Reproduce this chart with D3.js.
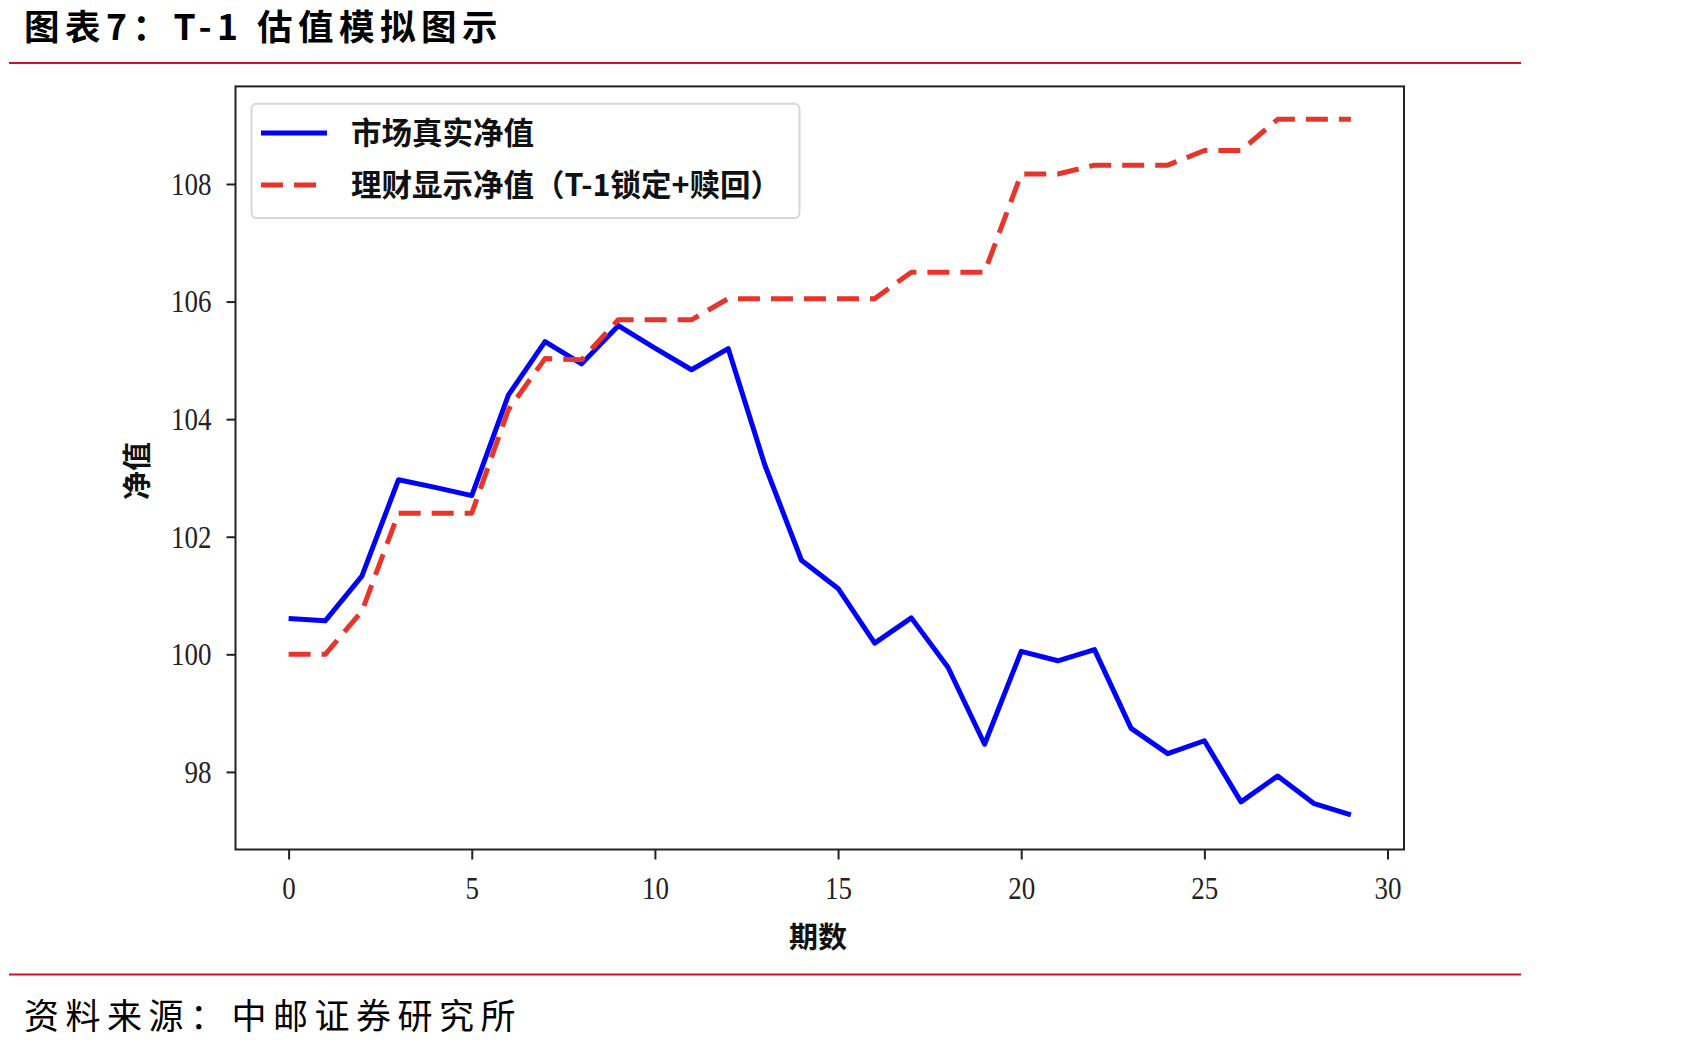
<!DOCTYPE html>
<html>
<head>
<meta charset="utf-8">
<script src="https://cdn.jsdelivr.net/npm/d3@7"></script>
<style>
  html, body { margin: 0; padding: 0; background: #fff; }
  svg { display: block; }
</style>
</head>
<body>
<svg id="chart" width="1694" height="1050"></svg>
<script>
const titleText = "图表7：T-1 估值模拟图示";
const sourceText = "资料来源：中邮证券研究所";
const xLabel = "期数";
const yLabel = "净值";
const seriesNames = ["市场真实净值", "理财显示净值（T-1锁定+赎回）"];

const periods = [0,1,2,3,4,5,6,7,8,9,10,11,12,13,14,15,16,17,18,19,20,21,22,23,24,25,26,27,28,29];
const marketNav = [100.61, 100.57, 101.33, 102.97, 102.84, 102.70, 104.41, 105.32, 104.94, 105.59,
                   105.21, 104.84, 105.20, 103.22, 101.60, 101.12, 100.19, 100.62, 99.78, 98.47,
                   100.05, 99.89, 100.08, 98.74, 98.31, 98.53, 97.49, 97.93, 97.46, 97.27];
const displayNav = [100.00, 100.00, 100.73, 102.40, 102.40, 102.40, 104.16, 105.03, 105.01, 105.69,
                    105.69, 105.69, 106.05, 106.05, 106.05, 106.05, 106.05, 106.50, 106.50, 106.50,
                    108.17, 108.17, 108.32, 108.32, 108.32, 108.57, 108.57, 109.10, 109.10, 109.10];
const xTicks = [0, 5, 10, 15, 20, 25, 30];
const yTicks = [98, 100, 102, 104, 106, 108];

const svg = d3.select("#chart");
const cjk = "'Noto Sans CJK SC', 'Noto Sans', sans-serif";
const serif = "'Liberation Serif', 'DejaVu Serif', serif";

// Plot area
const L = 235.5, R = 1404, T = 86.4, B = 849.5;
const x = d3.scaleLinear().domain([-1.45, 30.45]).range([L, R]);
const y = d3.scaleLinear().domain([96.68, 109.66]).range([B, T]);

// Title
svg.append("text").attr("x", 24).attr("y", 40)
  .attr("font-family", cjk).attr("font-weight", 700).attr("font-size", 35.5)
  .attr("letter-spacing", 5.5).attr("fill", "#000").text(titleText);
svg.append("line").attr("x1", 9).attr("x2", 1521).attr("y1", 63).attr("y2", 63)
  .attr("stroke", "#c8161d").attr("stroke-width", 2);

// Footer
svg.append("line").attr("x1", 9).attr("x2", 1521).attr("y1", 974.5).attr("y2", 974.5)
  .attr("stroke", "#c8161d").attr("stroke-width", 2);
svg.append("text").attr("x", 24).attr("y", 1029)
  .attr("font-family", cjk).attr("font-weight", 400).attr("font-size", 35)
  .attr("letter-spacing", 6.5).attr("fill", "#000").text(sourceText);

// Axes
function stretch(sel, sy) {
  sel.selectAll(".tick text").each(function() {
    const t = d3.select(this);
    const yy = +t.attr("y") || 0;
    t.attr("transform", `translate(0,${yy}) scale(1,${sy}) translate(0,${-yy})`);
  });
}
const xAxis = svg.append("g").attr("transform", `translate(0,${B})`)
  .call(d3.axisBottom(x).tickValues(xTicks).tickSize(10).tickPadding(16).tickSizeOuter(0));
xAxis.select(".domain").remove();
xAxis.selectAll(".tick line").attr("stroke", "#222").attr("stroke-width", 2);
xAxis.selectAll(".tick text").attr("font-family", serif).attr("font-size", 27).attr("fill", "#222");
stretch(xAxis, 1.2);

const yAxis = svg.append("g").attr("transform", `translate(${L},0)`)
  .call(d3.axisLeft(y).tickValues(yTicks).tickSize(9).tickPadding(15).tickSizeOuter(0));
yAxis.select(".domain").remove();
yAxis.selectAll(".tick line").attr("stroke", "#222").attr("stroke-width", 2);
yAxis.selectAll(".tick text").attr("font-family", serif).attr("font-size", 27).attr("fill", "#222");
yAxis.selectAll(".tick text").each(function() {
  d3.select(this).attr("transform", "scale(1,1.2)").attr("y", 0).attr("dy", "0.32em");
});

// Frame
svg.append("rect").attr("x", L).attr("y", T).attr("width", R - L).attr("height", B - T)
  .attr("fill", "none").attr("stroke", "#222").attr("stroke-width", 2);

// Axis labels
svg.append("text").attr("x", 818).attr("y", 948).attr("text-anchor", "middle")
  .attr("font-family", cjk).attr("font-weight", 700).attr("font-size", 29).attr("fill", "#111")
  .text(xLabel);
svg.append("text").attr("transform", "translate(148,471) rotate(-90)").attr("text-anchor", "middle")
  .attr("font-family", cjk).attr("font-weight", 700).attr("font-size", 29).attr("fill", "#111")
  .text(yLabel);

// Lines
const line = d3.line().x((d, i) => x(periods[i])).y(d => y(d));
svg.append("path").datum(marketNav).attr("d", line)
  .attr("fill", "none").attr("stroke", "#0000ff").attr("stroke-width", 5)
  .attr("stroke-linejoin", "round");
svg.append("path").datum(displayNav).attr("d", line)
  .attr("fill", "none").attr("stroke", "#e8352b").attr("stroke-width", 5)
  .attr("stroke-dasharray", "22,11").attr("stroke-linejoin", "round");

// Legend
const lg = svg.append("g");
lg.append("rect").attr("x", 251.5).attr("y", 103.7).attr("width", 548).attr("height", 114.3)
  .attr("rx", 5).attr("fill", "#fff").attr("fill-opacity", 0.85)
  .attr("stroke", "#d6d6d6").attr("stroke-width", 2);
const rows = [
  { name: seriesNames[0], color: "#0000ff", dash: null, yy: 133 },
  { name: seriesNames[1], color: "#e8352b", dash: "22,11", yy: 185 }
];
rows.forEach(r => {
  lg.append("line").attr("x1", 261).attr("x2", 327).attr("y1", r.yy).attr("y2", r.yy)
    .attr("stroke", r.color).attr("stroke-width", 5)
    .attr("stroke-dasharray", r.dash);
  lg.append("text").attr("x", 351).attr("y", r.yy).attr("dy", "0.36em")
    .attr("font-family", cjk).attr("font-weight", 700).attr("font-size", 30.5).attr("fill", "#111")
    .text(r.name);
});
</script>
</body>
</html>
